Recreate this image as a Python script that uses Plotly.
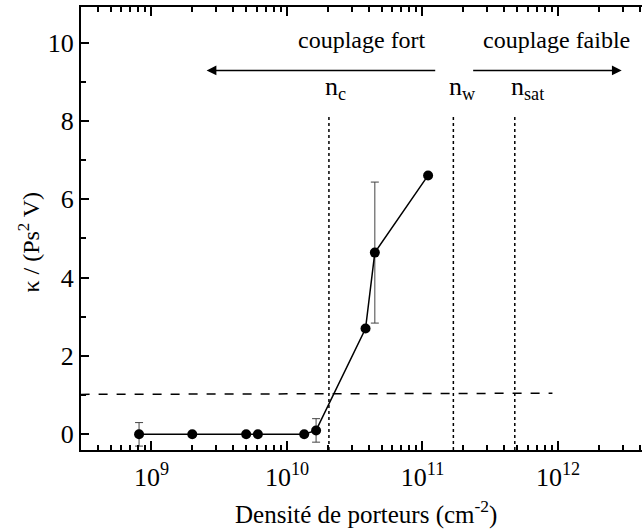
import numpy as np
import plotly.graph_objects as go

# Carrier density (cm^-2) and coupling coefficient kappa
density = [8.1e8, 2.0e9, 5.0e9, 6.1e9, 1.34e10, 1.64e10, 3.8e10, 4.45e10, 1.1e11]
kappa = [0.0, 0.0, 0.0, 0.0, 0.0, 0.1, 2.7, 4.64, 6.61]
kappa_err = [0.3, None, None, None, None, 0.3, None, 1.8, None]

# Threshold level (dashed) and characteristic densities (dotted)
threshold_x = [3.0e8, 9.1e11]
threshold_y = [1.02, 1.05]
n_c, n_w, n_sat = 2.04e10, 1.69e11, 4.8e11
marker_top = 8.1

x_tickvals = [1e9, 1e10, 1e11, 1e12]
x_ticktext = ["10<sup>9</sup>", "10<sup>10</sup>", "10<sup>11</sup>", "10<sup>12</sup>"]
x_minor = [m * 10.0 ** d for d in range(8, 13) for m in range(2, 10)]

FONT = "Liberation Serif"

fig = go.Figure()

fig.add_trace(go.Scatter(
    x=threshold_x, y=threshold_y, mode="lines",
    line=dict(color="black", width=1.5, dash="dash"), hoverinfo="skip",
))

for xv in (n_c, n_w, n_sat):
    fig.add_trace(go.Scatter(
        x=[xv, xv], y=[-0.4, marker_top], mode="lines",
        line=dict(color="black", width=1.5, dash="dot"), hoverinfo="skip",
    ))

fig.add_trace(go.Scatter(
    x=density, y=kappa, mode="lines+markers",
    line=dict(color="black", width=1.5),
    marker=dict(color="black", size=10),
    error_y=dict(type="data", array=kappa_err, visible=True,
                 color="#444", thickness=1, width=4),
))

fig.update_xaxes(
    type="log", range=[8.48, 12.62],
    tickvals=x_tickvals, ticktext=x_ticktext,
    ticks="inside", ticklen=9, tickwidth=1.5, tickcolor="black",
    ticklabelstandoff=3,
    minor=dict(tickvals=x_minor, ticks="inside", ticklen=5, tickwidth=1.5,
               tickcolor="black", showgrid=False),
    showline=True, linewidth=2, linecolor="black", mirror="ticks",
    showgrid=False, zeroline=False,
    tickfont=dict(family=FONT, size=26, color="black"),
)
fig.update_yaxes(
    range=[-0.4, 10.91],
    tickvals=[0, 2, 4, 6, 8, 10],
    ticks="inside", ticklen=8, tickwidth=1.5, tickcolor="black",
    minor=dict(tickvals=[1, 3, 5, 7, 9], ticks="inside", ticklen=5,
               tickwidth=1.5, tickcolor="black", showgrid=False),
    showline=True, linewidth=2, linecolor="black", mirror=False,
    showgrid=False, zeroline=False,
    tickfont=dict(family=FONT, size=26, color="black"),
)

txt = dict(family=FONT, size=24, color="black")
nfont = dict(family=FONT, size=26, color="black")
annotations = [
    dict(x=0.508, y=-0.14, xref="paper", yref="paper",
         text="Densité de porteurs (cm<sup>-2</sup>)", showarrow=False,
         font=dict(family=FONT, size=25, color="black"),
         xanchor="center", yanchor="middle"),
    dict(x=-0.092, y=0.469, xref="paper", yref="paper",
         text="κ / (Ps<sup>2</sup> V)", showarrow=False, textangle=-90,
         font=txt, xanchor="center", yanchor="middle"),
    dict(x=10.55, y=10.06, xref="x", yref="y", text="couplage fort",
         showarrow=False, font=txt),
    dict(x=11.99, y=10.06, xref="x", yref="y", text="couplage faible",
         showarrow=False, font=txt),
    dict(x=9.407, y=9.29, ax=11.105, ay=9.29, xref="x", yref="y",
         axref="x", ayref="y", text="", showarrow=True, arrowhead=2,
         arrowsize=1.3, arrowwidth=1.5, arrowcolor="black"),
    dict(x=12.47, y=9.29, ax=11.363, ay=9.29, xref="x", yref="y",
         axref="x", ayref="y", text="", showarrow=True, arrowhead=2,
         arrowsize=1.3, arrowwidth=1.5, arrowcolor="black"),
    dict(x=np.log10(n_c), y=8.85, xref="x", yref="y", xanchor="left", xshift=-6,
         text="n<sub>c</sub>", showarrow=False, font=nfont),
    dict(x=np.log10(n_w), y=8.85, xref="x", yref="y", xanchor="left", xshift=-6,
         text="n<sub>w</sub>", showarrow=False, font=nfont),
    dict(x=np.log10(n_sat), y=8.85, xref="x", yref="y", xanchor="left", xshift=-6,
         text="n<sub>sat</sub>", showarrow=False, font=nfont),
]

fig.update_layout(
    width=642, height=532,
    margin=dict(l=81, r=0, t=6.5, b=82),
    paper_bgcolor="white", plot_bgcolor="white",
    showlegend=False,
    annotations=annotations,
    font=dict(family=FONT, color="black"),
)

fig.write_html("out.html")
